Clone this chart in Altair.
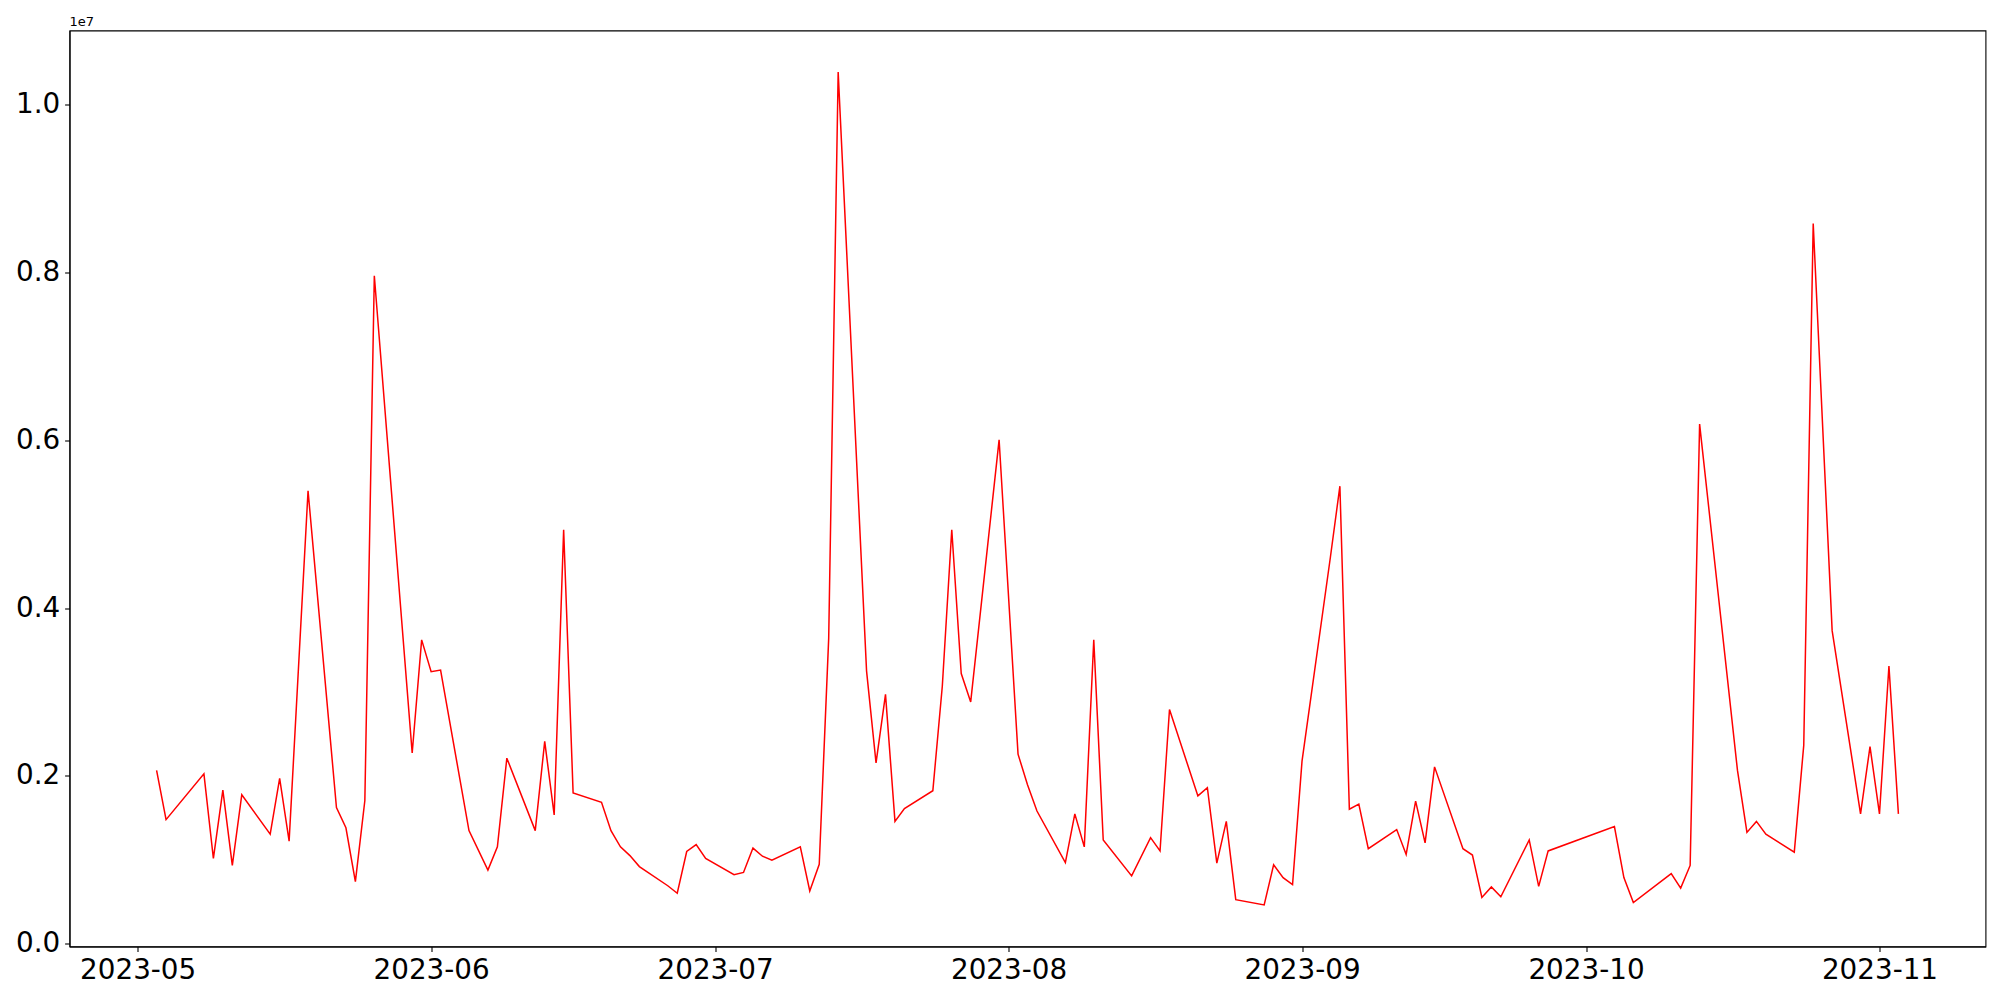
import altair as alt
import pandas as pd

# Dates of the observations
dates = [
    "2023-05-03", "2023-05-04", "2023-05-08", "2023-05-09", "2023-05-10", "2023-05-11",
    "2023-05-12", "2023-05-15", "2023-05-16", "2023-05-17", "2023-05-19", "2023-05-22",
    "2023-05-23", "2023-05-24", "2023-05-25", "2023-05-26", "2023-05-30", "2023-05-31",
    "2023-06-01", "2023-06-02", "2023-06-05", "2023-06-07", "2023-06-08", "2023-06-09",
    "2023-06-12", "2023-06-13", "2023-06-14", "2023-06-15", "2023-06-16", "2023-06-19",
    "2023-06-20", "2023-06-21", "2023-06-22", "2023-06-23", "2023-06-26", "2023-06-27",
    "2023-06-28", "2023-06-29", "2023-06-30", "2023-07-03", "2023-07-04", "2023-07-05",
    "2023-07-06", "2023-07-07", "2023-07-10", "2023-07-11", "2023-07-12", "2023-07-13",
    "2023-07-14", "2023-07-17", "2023-07-18", "2023-07-19", "2023-07-20", "2023-07-21",
    "2023-07-24", "2023-07-25", "2023-07-26", "2023-07-27", "2023-07-28", "2023-07-31",
    "2023-08-02", "2023-08-03", "2023-08-04", "2023-08-07", "2023-08-08", "2023-08-09",
    "2023-08-10", "2023-08-11", "2023-08-14", "2023-08-16", "2023-08-17", "2023-08-18",
    "2023-08-21", "2023-08-22", "2023-08-23", "2023-08-24", "2023-08-25", "2023-08-28",
    "2023-08-29", "2023-08-30", "2023-08-31", "2023-09-01", "2023-09-04", "2023-09-05",
    "2023-09-06", "2023-09-07", "2023-09-08", "2023-09-11", "2023-09-12", "2023-09-13",
    "2023-09-14", "2023-09-15", "2023-09-18", "2023-09-19", "2023-09-20", "2023-09-21",
    "2023-09-22", "2023-09-25", "2023-09-26", "2023-09-27", "2023-10-04", "2023-10-05",
    "2023-10-06", "2023-10-10", "2023-10-11", "2023-10-12", "2023-10-13", "2023-10-17",
    "2023-10-18", "2023-10-19", "2023-10-20", "2023-10-23", "2023-10-24", "2023-10-25",
    "2023-10-27", "2023-10-30", "2023-10-31", "2023-11-01", "2023-11-02", "2023-11-03",
]

# Values (raw units)
values = [
    2065000, 1478000, 2024000, 1015000, 1830000, 932000,
    1775000, 1305000, 1969000, 1222000, 5398000, 1623000,
    1381000, 738000, 1706000, 7962000, 2273000, 3621000,
    3241000, 3261000, 1347000, 876000, 1153000, 2211000,
    1347000, 2411000, 1533000, 4934000, 1796000, 1685000,
    1347000, 1153000, 1049000, 918000, 690000, 600000,
    1098000, 1181000, 1015000, 821000, 849000, 1139000,
    1042000, 994000, 1153000, 628000, 945000, 3642000,
    10389000, 3248000, 2155000, 2971000, 1457000, 1609000,
    1823000, 3068000, 4934000, 3220000, 2881000, 6006000,
    2259000, 1893000, 1581000, 966000, 1547000, 1153000,
    3621000, 1236000, 807000, 1263000, 1105000, 2791000,
    1761000, 1858000, 959000, 1457000, 524000, 462000,
    939000, 787000, 704000, 2176000, 4609000, 5453000,
    1602000, 1664000, 1132000, 1360000, 1063000, 1699000,
    1201000, 2107000, 1132000, 1056000, 551000, 676000,
    558000, 1236000, 683000, 1105000, 1395000, 787000,
    489000, 835000, 662000, 932000, 6193000, 2065000,
    1326000, 1457000, 1305000, 1091000, 2363000, 8584000,
    3731000, 1547000, 2349000, 1547000, 3310000, 1547000,
]

x_tick_months = [5, 6, 7, 8, 9, 10, 11]
y_tick_values = [0, 2000000, 4000000, 6000000, 8000000, 10000000]
offset_text = ["1e7"]

df = pd.DataFrame({"date": dates, "value": values})

# matplotlib-like 5% margins
ts = pd.to_datetime(df["date"])
t0 = ts.min().value // 10**6
t1 = ts.max().value // 10**6
tm = (t1 - t0) * 0.05
x_domain = [t0 - tm, t1 + tm]
vmin, vmax = min(values), max(values)
vm = (vmax - vmin) * 0.05
y_domain = [vmin - vm, vmax + vm]

FONT = "DejaVu Sans"

line = alt.Chart(df).mark_line(color="#ff0000", strokeWidth=1.5).encode(
    x=alt.X(
        "date:T",
        scale=alt.Scale(type="utc", domain=x_domain, nice=False),
        axis=alt.Axis(
            values=[alt.DateTime(year=2023, month=m, date=1, utc=True) for m in x_tick_months],
            labelExpr="utcFormat(datum.value, '%Y-%m')",
            title=None,
            labelFlush=False,
            labelOverlap=False,
        ),
    ),
    y=alt.Y(
        "value:Q",
        scale=alt.Scale(domain=y_domain, nice=False, zero=False),
        axis=alt.Axis(
            values=y_tick_values,
            labelExpr="format(datum.value / 10000000, '.1f')",
            title=None,
            labelOverlap=False,
        ),
    ),
)

offset_label = alt.Chart(pd.DataFrame({"label": offset_text})).mark_text(
    align="left", baseline="alphabetic", fontSize=13, font=FONT, color="black"
).encode(
    text="label:N",
    x=alt.value(0),
    y=alt.value(-5),
)

chart = (
    alt.layer(line, offset_label)
    .properties(
        width=1916,
        height=916,
        autosize=alt.AutoSizeParams(type="none"),
        padding={"left": 61.5, "top": 22.5, "right": 2, "bottom": 40},
    )
    .configure_view(stroke="black", strokeWidth=1.1)
    .configure_axis(
        grid=False,
        domainColor="black",
        domainWidth=1.1,
        tickColor="black",
        tickWidth=1.1,
        tickSize=4.9,
        labelPadding=4.9,
        labelFont=FONT,
        labelFontSize=27.8,
        labelColor="black",
    )
)

chart.save("out.html", embed_options={"renderer": "svg", "actions": False})
